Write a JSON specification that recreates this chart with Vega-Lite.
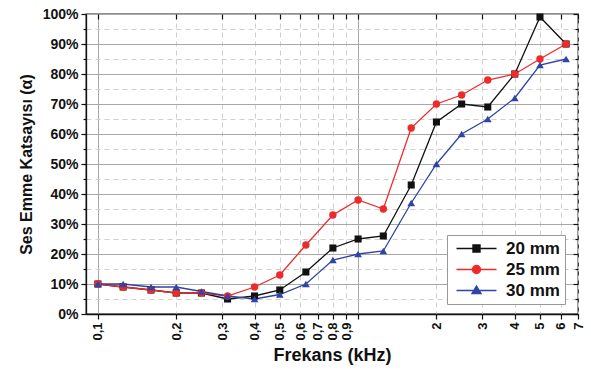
{
  "$schema": "https://vega.github.io/schema/vega-lite/v6.json",
  "width": 492,
  "height": 300,
  "autosize": "none",
  "padding": {"left": 86, "top": 14, "right": 13, "bottom": 62},
  "background": "white",
  "config": {
    "view": {"stroke": "#222222", "strokeWidth": 1.3},
    "font": "Liberation Sans"
  },
  "data": {
    "values": [
      {"f": 0.1, "s": "20 mm", "a": 10}, {"f": 0.125, "s": "20 mm", "a": 9}, {"f": 0.16, "s": "20 mm", "a": 8}, {"f": 0.2, "s": "20 mm", "a": 7}, {"f": 0.25, "s": "20 mm", "a": 7}, {"f": 0.315, "s": "20 mm", "a": 5}, {"f": 0.4, "s": "20 mm", "a": 6}, {"f": 0.5, "s": "20 mm", "a": 8}, {"f": 0.63, "s": "20 mm", "a": 14}, {"f": 0.8, "s": "20 mm", "a": 22}, {"f": 1, "s": "20 mm", "a": 25}, {"f": 1.25, "s": "20 mm", "a": 26}, {"f": 1.6, "s": "20 mm", "a": 43}, {"f": 2, "s": "20 mm", "a": 64}, {"f": 2.5, "s": "20 mm", "a": 70}, {"f": 3.15, "s": "20 mm", "a": 69}, {"f": 4, "s": "20 mm", "a": 80}, {"f": 5, "s": "20 mm", "a": 99}, {"f": 6.3, "s": "20 mm", "a": 90},
      {"f": 0.1, "s": "25 mm", "a": 10}, {"f": 0.125, "s": "25 mm", "a": 9}, {"f": 0.16, "s": "25 mm", "a": 8}, {"f": 0.2, "s": "25 mm", "a": 7}, {"f": 0.25, "s": "25 mm", "a": 7}, {"f": 0.315, "s": "25 mm", "a": 6}, {"f": 0.4, "s": "25 mm", "a": 9}, {"f": 0.5, "s": "25 mm", "a": 13}, {"f": 0.63, "s": "25 mm", "a": 23}, {"f": 0.8, "s": "25 mm", "a": 33}, {"f": 1, "s": "25 mm", "a": 38}, {"f": 1.25, "s": "25 mm", "a": 35}, {"f": 1.6, "s": "25 mm", "a": 62}, {"f": 2, "s": "25 mm", "a": 70}, {"f": 2.5, "s": "25 mm", "a": 73}, {"f": 3.15, "s": "25 mm", "a": 78}, {"f": 4, "s": "25 mm", "a": 80}, {"f": 5, "s": "25 mm", "a": 85}, {"f": 6.3, "s": "25 mm", "a": 90},
      {"f": 0.1, "s": "30 mm", "a": 10}, {"f": 0.125, "s": "30 mm", "a": 10}, {"f": 0.16, "s": "30 mm", "a": 9}, {"f": 0.2, "s": "30 mm", "a": 9}, {"f": 0.25, "s": "30 mm", "a": 7.5}, {"f": 0.315, "s": "30 mm", "a": 6}, {"f": 0.4, "s": "30 mm", "a": 5}, {"f": 0.5, "s": "30 mm", "a": 6.5}, {"f": 0.63, "s": "30 mm", "a": 10}, {"f": 0.8, "s": "30 mm", "a": 18}, {"f": 1, "s": "30 mm", "a": 20}, {"f": 1.25, "s": "30 mm", "a": 21}, {"f": 1.6, "s": "30 mm", "a": 37}, {"f": 2, "s": "30 mm", "a": 50}, {"f": 2.5, "s": "30 mm", "a": 60}, {"f": 3.15, "s": "30 mm", "a": 65}, {"f": 4, "s": "30 mm", "a": 72}, {"f": 5, "s": "30 mm", "a": 83}, {"f": 6.3, "s": "30 mm", "a": 85}
    ]
  },
  "resolve": {
    "axis": {"x": "independent", "y": "independent"},
    "scale": {"fill": "independent", "stroke": "independent", "shape": "independent"}
  },
  "layer": [
    {
      "mark": {"type": "line", "strokeWidth": 1.3},
      "encoding": {
        "x": {
          "field": "f", "type": "quantitative",
          "scale": {"type": "log", "domain": [0.09, 7], "nice": false},
          "axis": {
            "title": "Frekans (kHz)",
            "values": [0.1, 0.2, 0.3, 0.4, 0.5, 0.6, 0.7, 0.8, 0.9, 1, 2, 3, 4, 5, 6, 7],
            "format": "~g",
            "labelExpr": "replace(datum.label, '.', ',')",
            "labelAngle": -90,
            "labelFont": "Liberation Sans", "labelFontSize": 13, "labelFontWeight": "bold", "labelColor": "#111111",
            "labelPadding": 3,
            "tickSize": 5, "tickColor": "#111111", "tickWidth": 1.2,
            "domainColor": "#111111", "domainWidth": 1.3,
            "titleFont": "Liberation Sans", "titleFontSize": 18, "titleFontWeight": "bold", "titleColor": "#111111",
            "titlePadding": 6,
            "grid": true,
            "gridColor": {"condition": {"test": "datum.value == 0.1 || datum.value == 1", "value": "#a8a8a8"}, "value": "#cfcfcf"},
            "gridDash": {"condition": {"test": "datum.value == 0.1 || datum.value == 1", "value": []}, "value": [5, 4]},
            "gridWidth": 1
          }
        },
        "y": {
          "field": "a", "type": "quantitative",
          "scale": {"domain": [0, 100], "nice": false},
          "axis": {
            "title": "Ses Emme Katsayısı (α)",
            "values": [0, 5, 10, 15, 20, 25, 30, 35, 40, 45, 50, 55, 60, 65, 70, 75, 80, 85, 90, 95, 100],
            "labelExpr": "datum.value % 10 == 0 ? datum.value + '%' : ''",
            "labelFont": "Liberation Sans", "labelFontSize": 14, "labelFontWeight": "bold", "labelColor": "#111111",
            "labelPadding": 3,
            "tickSize": {"condition": {"test": "datum.value % 10 == 0", "value": 5}, "value": 3},
            "tickColor": "#111111", "tickWidth": 1.2,
            "domainColor": "#111111", "domainWidth": 1.3,
            "titleFont": "Liberation Sans", "titleFontSize": 16, "titleFontWeight": "bold", "titleColor": "#111111",
            "titlePadding": 8,
            "grid": true,
            "gridColor": {"condition": {"test": "datum.value % 10 == 0", "value": "#a8a8a8"}, "value": "#cfcfcf"},
            "gridDash": {"condition": {"test": "datum.value % 10 == 0", "value": []}, "value": [5, 4]},
            "gridWidth": 1
          }
        },
        "color": {
          "field": "s", "type": "nominal",
          "scale": {"domain": ["20 mm", "25 mm", "30 mm"], "range": ["#111111", "#ee2a2a", "#2f44a6"]},
          "legend": null
        }
      }
    },
    {
      "transform": [{"filter": "datum.s == '20 mm'"}],
      "mark": {"type": "square", "opacity": 1, "size": 50},
      "encoding": {
        "x": {"field": "f", "type": "quantitative", "axis": null},
        "y": {"field": "a", "type": "quantitative", "axis": null},
        "color": {"field": "s", "type": "nominal", "legend": null}
      }
    },
    {
      "transform": [{"filter": "datum.s == '25 mm'"}],
      "mark": {"type": "circle", "opacity": 1, "size": 55},
      "encoding": {
        "x": {"field": "f", "type": "quantitative", "axis": null},
        "y": {"field": "a", "type": "quantitative", "axis": null},
        "color": {"field": "s", "type": "nominal", "legend": null}
      }
    },
    {
      "transform": [{"filter": "datum.s == '30 mm'"}],
      "mark": {"type": "point", "shape": "triangle-up", "filled": true, "opacity": 1, "size": 60},
      "encoding": {
        "x": {"field": "f", "type": "quantitative", "axis": null},
        "y": {"field": "a", "type": "quantitative", "axis": null},
        "color": {"field": "s", "type": "nominal", "legend": null}
      }
    },
    {
      "transform": [{"filter": "false"}],
      "mark": {"type": "point", "filled": true, "opacity": 1},
      "encoding": {
        "x": {"field": "f", "type": "quantitative", "axis": null},
        "y": {"field": "a", "type": "quantitative", "axis": null},
        "fill": {
          "field": "s", "type": "nominal",
          "scale": {"domain": ["20 mm", "25 mm", "30 mm"], "range": ["#111111", "#ee2a2a", "#2f44a6"]},
          "legend": {
            "title": null, "orient": "none", "legendX": 361, "legendY": 221,
            "fillColor": "white", "strokeColor": "#999999", "padding": 5,
            "symbolSize": 100, "symbolStrokeWidth": 1.4, "symbolOffset": 16, "labelOffset": 21,
            "labelFont": "Liberation Sans", "labelFontSize": 17, "labelFontWeight": "bold", "labelColor": "#111111",
            "rowPadding": 3
          }
        },
        "stroke": {
          "field": "s", "type": "nominal",
          "scale": {"domain": ["20 mm", "25 mm", "30 mm"], "range": ["#111111", "#ee2a2a", "#2f44a6"]},
          "legend": {
            "title": null, "orient": "none", "legendX": 361, "legendY": 221,
            "fillColor": "white", "strokeColor": "#999999", "padding": 5,
            "symbolSize": 100, "symbolStrokeWidth": 1.4, "symbolOffset": 16, "labelOffset": 21,
            "labelFont": "Liberation Sans", "labelFontSize": 17, "labelFontWeight": "bold", "labelColor": "#111111",
            "rowPadding": 3
          }
        },
        "shape": {
          "field": "s", "type": "nominal",
          "scale": {
            "domain": ["20 mm", "25 mm", "30 mm"],
            "range": [
              "M-4,0H4M-0.7,-0.7H0.7V0.7H-0.7Z",
              "M-4,0H4M-0.8,0A0.8,0.8 0 1,0 0.8,0A0.8,0.8 0 1,0 -0.8,0Z",
              "M-4,0H4M0,-0.9L0.9,0.6H-0.9Z"
            ]
          },
          "legend": {
            "title": null, "orient": "none", "legendX": 361, "legendY": 221,
            "fillColor": "white", "strokeColor": "#999999", "padding": 5,
            "symbolSize": 100, "symbolStrokeWidth": 1.4, "symbolOffset": 16, "labelOffset": 21,
            "labelFont": "Liberation Sans", "labelFontSize": 17, "labelFontWeight": "bold", "labelColor": "#111111",
            "rowPadding": 3
          }
        }
      }
    },
    {
      "mark": {"type": "point", "opacity": 0},
      "encoding": {
        "x": {
          "field": "f", "type": "quantitative",
          "axis": {
            "orient": "top", "title": null, "labels": false, "domain": false, "grid": false,
            "values": [0.1, 0.2, 0.3, 0.4, 0.5, 0.6, 0.7, 0.8, 0.9, 1, 2, 3, 4, 5, 6, 7],
            "tickSize": -5, "tickColor": "#111111", "tickWidth": 1.2
          }
        },
        "y": {
          "field": "a", "type": "quantitative",
          "axis": {
            "orient": "right", "title": null, "labels": false, "domain": false, "grid": false,
            "values": [0, 5, 10, 15, 20, 25, 30, 35, 40, 45, 50, 55, 60, 65, 70, 75, 80, 85, 90, 95, 100],
            "tickSize": {"condition": {"test": "datum.value % 10 == 0", "value": -5}, "value": -3},
            "tickColor": "#111111", "tickWidth": 1.2
          }
        }
      }
    }
  ]
}
